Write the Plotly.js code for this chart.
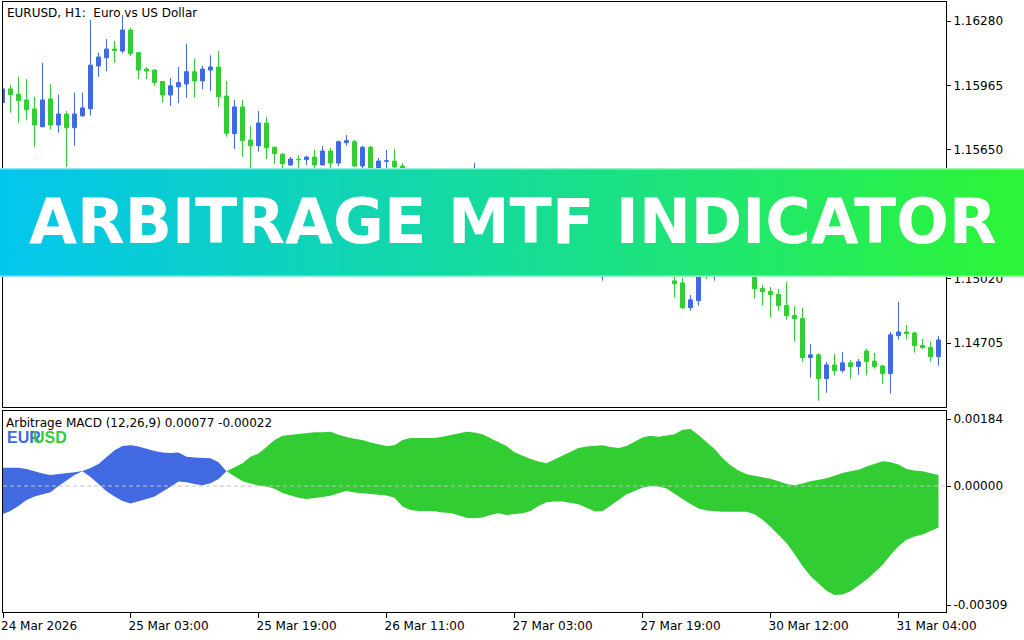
<!DOCTYPE html>
<html>
<head>
<meta charset="utf-8">
<script src="https://cdn.plot.ly/plotly-3.0.1.min.js"></script>
<style>
html,body{margin:0;padding:0;background:#fff;}
#chart{width:1024px;height:640px;}
</style>
</head>
<body>
<div id="chart"></div>
<script>
// ---------------- data ----------------
const symbolTitle = 'EURUSD, H1:\u00a0 Euro vs US Dollar';
const indicatorTitle = 'Arbitrage MACD (12,26,9) 0.00077 -0.00022';
const bannerText = 'ARBITRAGE MTF INDICATOR';
const baseCurrency = 'EUR';
const quoteCurrency = 'USD';

const openP = [1.15882,1.15948,1.15922,1.15894,1.15850,1.15763,1.15899,1.15771,1.15825,1.15758,
1.15816,1.15851,1.16060,1.16100,1.16143,1.16133,1.16236,1.16125,1.16045,1.16040,
1.15984,1.15918,1.15958,1.15972,1.16032,1.15987,1.16040,1.16055,1.15913,1.15729,
1.15860,1.15698,1.15670,1.15781,1.15663,1.15628,1.15576,1.15604,1.15602,1.15615,
1.15576,1.15644,1.15585,1.15685,1.15690,1.15571,1.15663,1.15532,1.15594,1.15595,
1.15571,1.15502,1.15444,1.15473,1.15414,1.15380,1.15424,1.15463,1.15493,1.15473,
1.15527,1.15463,1.15405,1.15346,1.15375,1.15317,1.15278,1.15302,1.15243,1.15209,
1.15229,1.15170,1.15131,1.15150,1.15102,1.15072,1.15102,1.15082,1.15121,1.15102,
1.15136,1.15111,1.15082,1.15053,1.15009,1.14999,1.14878,1.14912,1.15087,1.15053,
1.15082,1.15062,1.15092,1.15072,1.15053,1.14972,1.14957,1.14943,1.14889,1.14840,
1.14825,1.14634,1.14647,1.14531,1.14598,1.14570,1.14608,1.14590,1.14666,1.14617,
1.14593,1.14555,1.14741,1.14759,1.14754,1.14693,1.14683,1.14638];

const highP = [1.15958,1.15967,1.16007,1.15996,1.15910,1.16076,1.15972,1.15920,1.15840,1.15930,
1.15930,1.16285,1.16125,1.16192,1.16182,1.16309,1.16247,1.16127,1.16056,1.16044,
1.15986,1.16001,1.16056,1.16169,1.16097,1.16060,1.16112,1.16133,1.15988,1.15894,
1.15894,1.15767,1.15840,1.15811,1.15665,1.15634,1.15615,1.15624,1.15621,1.15650,
1.15669,1.15659,1.15695,1.15722,1.15698,1.15669,1.15669,1.15610,1.15649,1.15654,
1.15585,1.15522,1.15488,1.15483,1.15439,1.15444,1.15478,1.15512,1.15517,1.15586,
1.15542,1.15478,1.15419,1.15395,1.15390,1.15336,1.15322,1.15312,1.15268,1.15253,
1.15238,1.15190,1.15175,1.15165,1.15121,1.15136,1.15126,1.15141,1.15150,1.15160,
1.15160,1.15131,1.15102,1.15087,1.15053,1.15023,1.14940,1.15102,1.15111,1.15102,
1.15102,1.15121,1.15111,1.15097,1.15072,1.14989,1.14979,1.14969,1.15004,1.14886,
1.14877,1.14701,1.14655,1.14613,1.14652,1.14661,1.14622,1.14627,1.14676,1.14657,
1.14598,1.14759,1.14906,1.14793,1.14760,1.14725,1.14712,1.14740];

const lowP = [1.15874,1.15832,1.15783,1.15796,1.15665,1.15760,1.15750,1.15734,1.15567,1.15670,
1.15812,1.15817,1.16007,1.16035,1.16076,1.16122,1.16108,1.15996,1.15996,1.15963,
1.15881,1.15865,1.15878,1.15905,1.15905,1.15946,1.15938,1.15861,1.15714,1.15654,
1.15616,1.15542,1.15641,1.15605,1.15582,1.15542,1.15572,1.15545,1.15576,1.15542,
1.15574,1.15542,1.15571,1.15670,1.15566,1.15542,1.15503,1.15513,1.15527,1.15523,
1.15483,1.15424,1.15410,1.15390,1.15356,1.15366,1.15405,1.15444,1.15454,1.15458,
1.15444,1.15380,1.15326,1.15317,1.15297,1.15253,1.15258,1.15219,1.15185,1.15180,
1.15150,1.15102,1.15111,1.15082,1.15053,1.15010,1.15062,1.15062,1.15077,1.15082,
1.15087,1.15062,1.15038,1.15033,1.14927,1.14872,1.14863,1.14888,1.15018,1.15010,
1.15038,1.15043,1.15053,1.15033,1.14922,1.14888,1.14829,1.14863,1.14819,1.14712,
1.14614,1.14536,1.14423,1.14462,1.14546,1.14560,1.14531,1.14550,1.14546,1.14580,
1.14506,1.14458,1.14722,1.14722,1.14658,1.14678,1.14614,1.14594];

const closeP = [1.15948,1.15920,1.15891,1.15846,1.15771,1.15894,1.15771,1.15825,1.15758,1.15825,
1.15855,1.16064,1.16104,1.16143,1.16135,1.16236,1.16120,1.16040,1.16035,1.15979,
1.15918,1.15963,1.15979,1.16032,1.15987,1.16045,1.16055,1.15910,1.15731,1.15860,
1.15695,1.15670,1.15781,1.15660,1.15631,1.15582,1.15605,1.15602,1.15615,1.15576,
1.15644,1.15585,1.15690,1.15695,1.15571,1.15663,1.15523,1.15595,1.15596,1.15566,
1.15503,1.15444,1.15473,1.15414,1.15380,1.15424,1.15463,1.15493,1.15473,1.15527,
1.15463,1.15405,1.15346,1.15375,1.15317,1.15278,1.15302,1.15243,1.15209,1.15229,
1.15170,1.15131,1.15150,1.15102,1.15072,1.15102,1.15082,1.15121,1.15102,1.15136,
1.15111,1.15082,1.15053,1.15062,1.14995,1.14878,1.14916,1.15087,1.15053,1.15082,
1.15062,1.15092,1.15072,1.15053,1.14971,1.14956,1.14942,1.14888,1.14839,1.14824,
1.14634,1.14647,1.14531,1.14598,1.14570,1.14608,1.14590,1.14613,1.14614,1.14590,
1.14555,1.14745,1.14759,1.14751,1.14692,1.14682,1.14638,1.14720];

const eurLine = [0.00045,0.00045,0.00045,0.00042,0.00036,0.00031,0.00027,0.00029,0.00032,0.00034,
0.00037,0.00044,0.00054,0.00071,0.00088,0.00098,0.00100,0.00097,0.00091,0.00086,
0.00082,0.00081,0.00082,0.00072,0.00070,0.00069,0.00068,0.00058,0.00036,0.00023,
0.00012,0.00006,0.00001,-0.00001,-0.00007,-0.00017,-0.00023,-0.00029,-0.00032,-0.00030,
-0.00027,-0.00024,-0.00017,-0.00012,-0.00016,-0.00018,-0.00020,-0.00021,-0.00023,-0.00029,
-0.00050,-0.00059,-0.00061,-0.00061,-0.00062,-0.00065,-0.00066,-0.00072,-0.00078,-0.00079,
-0.00077,-0.00071,-0.00067,-0.00071,-0.00069,-0.00067,-0.00061,-0.00049,-0.00040,-0.00038,
-0.00038,-0.00042,-0.00045,-0.00053,-0.00062,-0.00062,-0.00049,-0.00034,-0.00020,-0.00011,
-0.00004,0.00000,-0.00001,-0.00006,-0.00020,-0.00032,-0.00044,-0.00055,-0.00060,-0.00062,
-0.00063,-0.00063,-0.00063,-0.00063,-0.00069,-0.00083,-0.00100,-0.00120,-0.00140,-0.00167,
-0.00196,-0.00221,-0.00238,-0.00257,-0.00267,-0.00266,-0.00258,-0.00245,-0.00230,-0.00212,
-0.00194,-0.00169,-0.00148,-0.00132,-0.00124,-0.00119,-0.00110,-0.00102];

const usdLine = [-0.00069,-0.00061,-0.00049,-0.00034,-0.00026,-0.00021,-0.00015,0.00000,0.00013,0.00027,
0.00036,0.00022,0.00005,-0.00013,-0.00026,-0.00037,-0.00043,-0.00038,-0.00032,-0.00026,
-0.00015,-0.00002,0.00011,0.00009,0.00005,0.00002,0.00007,0.00017,0.00036,0.00045,
0.00056,0.00072,0.00080,0.00096,0.00113,0.00123,0.00125,0.00127,0.00130,0.00132,
0.00132,0.00133,0.00126,0.00120,0.00116,0.00113,0.00107,0.00102,0.00098,0.00100,
0.00113,0.00118,0.00118,0.00118,0.00118,0.00121,0.00125,0.00130,0.00133,0.00131,
0.00127,0.00117,0.00108,0.00098,0.00083,0.00074,0.00066,0.00060,0.00056,0.00065,
0.00075,0.00085,0.00093,0.00097,0.00098,0.00100,0.00096,0.00093,0.00098,0.00109,
0.00119,0.00123,0.00121,0.00124,0.00127,0.00138,0.00140,0.00125,0.00108,0.00091,
0.00069,0.00051,0.00038,0.00029,0.00025,0.00021,0.00018,0.00012,0.00005,0.00002,
0.00006,0.00012,0.00015,0.00019,0.00025,0.00032,0.00036,0.00040,0.00048,0.00055,
0.00061,0.00058,0.00053,0.00042,0.00038,0.00036,0.00031,0.00027];

// bar where EUR / USD lines swap and the fill colour changes
const crossBar = 28;

const timeTickBars = [0.0625, 16, 32, 48, 64, 80, 96, 112];
const timeTickText = ['24 Mar 2026','25 Mar 03:00','25 Mar 19:00','26 Mar 11:00',
                      '27 Mar 03:00','27 Mar 19:00','30 Mar 12:00','31 Mar 04:00'];
// (the 1.15335 level sits under the banner and is not visible)
const priceTickVals = [1.16280, 1.15965, 1.15650, 1.15020, 1.14705];
const priceTickText = ['1.16280','1.15965','1.15650','1.15020','1.14705'];
const macdRange = [-0.00309, 0.00184];
const macdTickVals = [0.00164, 0, -0.00292];
const macdTickText = ['0.00184','0.00000','-0.00309'];

// ---------------- styles ----------------
const bullColor = '#4169E1';
const bearColor = '#32CD32';
const mtFont = {family: 'DejaVu Sans', size: 12, color: '#000000'};

const bars = openP.map((_, i) => i);
const xRange = [0.0625, 117.9375];

const seg1 = bars.slice(0, crossBar + 1);
const seg2 = bars.slice(crossBar);

const traces = [
  {
    type: 'candlestick', x: bars, open: openP, high: highP, low: lowP, close: closeP,
    xaxis: 'x', yaxis: 'y', whiskerwidth: 0, hoverinfo: 'skip',
    increasing: {line: {color: bullColor, width: 1}, fillcolor: bullColor},
    decreasing: {line: {color: bearColor, width: 1}, fillcolor: bearColor}
  },
  {type: 'scatter', mode: 'lines', x: seg1, y: eurLine.slice(0, crossBar + 1),
   xaxis: 'x2', yaxis: 'y2', line: {width: 0, color: bullColor}, hoverinfo: 'skip'},
  {type: 'scatter', mode: 'lines', x: seg1, y: usdLine.slice(0, crossBar + 1),
   xaxis: 'x2', yaxis: 'y2', line: {width: 0, color: bullColor}, fill: 'tonexty',
   fillcolor: bullColor, hoverinfo: 'skip'},
  {type: 'scatter', mode: 'lines', x: seg2, y: eurLine.slice(crossBar),
   xaxis: 'x2', yaxis: 'y2', line: {width: 0, color: bearColor}, hoverinfo: 'skip'},
  {type: 'scatter', mode: 'lines', x: seg2, y: usdLine.slice(crossBar),
   xaxis: 'x2', yaxis: 'y2', line: {width: 0, color: bearColor}, fill: 'tonexty',
   fillcolor: bearColor, hoverinfo: 'skip'}
];

// banner gradient as an SVG image
const bannerSvg =
  "<svg xmlns='http://www.w3.org/2000/svg' width='1024' height='109' viewBox='0 0 1024 109' preserveAspectRatio='none'>" +
  "<defs><linearGradient id='g' x1='0' y1='0' x2='1' y2='0'>" +
  "<stop offset='0' stop-color='#03c6ee'/><stop offset='0.5' stop-color='#16dc98'/><stop offset='1' stop-color='#2df536'/>" +
  "</linearGradient></defs>" +
  "<rect x='0' y='0' width='1024' height='109' fill='url(#g)'/>" +
  "<rect x='0' y='0' width='1024' height='1.5' fill='#ffffff' fill-opacity='0.55'/>" +
  "<rect x='0' y='107.5' width='1024' height='1.5' fill='#ffffff' fill-opacity='0.55'/>" +
  "</svg>";
const bannerSrc = 'data:image/svg+xml;charset=utf-8,' + encodeURIComponent(bannerSvg);

// pixel helpers for paper coordinates (plot area: x 3..946, y 2..612)
const px = v => (v - 3) / 943;
const py = v => (612 - v) / 610;

const axisCommon = {
  showline: true, mirror: true, linecolor: '#000000', linewidth: 1,
  showgrid: false, zeroline: false, fixedrange: true, tickfont: mtFont
};

const layout = {
  width: 1024, height: 640,
  margin: {l: 3, r: 78, t: 2, b: 28, pad: 0},
  paper_bgcolor: '#ffffff', plot_bgcolor: '#ffffff',
  showlegend: false,
  font: mtFont,
  boxgap: 0.3, boxgroupgap: 0.3,
  xaxis: Object.assign({}, axisCommon, {
    domain: [0, 1], anchor: 'y', range: xRange, showticklabels: false, ticks: '',
    rangeslider: {visible: false}
  }),
  yaxis: Object.assign({}, axisCommon, {
    domain: [py(407), 1], anchor: 'x', side: 'right', range: [1.14392, 1.16373],
    tickvals: priceTickVals, ticktext: priceTickText,
    ticks: 'outside', ticklen: 4, tickcolor: '#000000'
  }),
  xaxis2: Object.assign({}, axisCommon, {
    domain: [0, 1], anchor: 'y2', range: xRange,
    tickvals: timeTickBars, ticktext: timeTickText,
    ticks: 'outside', ticklen: 5, tickcolor: '#000000', ticklabelposition: 'outside right',
    ticklabelshift: -3, ticklabelstandoff: 3
  }),
  yaxis2: Object.assign({}, axisCommon, {
    domain: [0, py(411)], anchor: 'x2', side: 'right', range: macdRange,
    tickvals: macdTickVals, ticktext: macdTickText,
    ticks: 'outside', ticklen: 4, tickcolor: '#000000'
  }),
  shapes: [
    {type: 'line', xref: 'x2 domain', x0: 0, x1: 1, yref: 'y2', y0: 0, y1: 0,
     line: {color: '#c4c4c4', width: 1, dash: '4px,3px'}, layer: 'above'}
  ],
  images: [
    {source: bannerSrc, xref: 'paper', yref: 'paper', x: px(0), y: py(168),
     sizex: 1024 / 943, sizey: 109 / 610, sizing: 'stretch',
     xanchor: 'left', yanchor: 'top', layer: 'above'}
  ],
  annotations: [
    {text: symbolTitle, xref: 'paper', yref: 'paper', x: px(5), y: py(13),
     xanchor: 'left', yanchor: 'middle', showarrow: false, font: mtFont},
    {text: indicatorTitle, xref: 'paper', yref: 'paper', x: px(4), y: py(423),
     xanchor: 'left', yanchor: 'middle', showarrow: false, font: mtFont},
    {text: baseCurrency, xref: 'paper', yref: 'paper', x: px(5), y: py(437),
     xanchor: 'left', yanchor: 'middle', showarrow: false,
     font: {family: 'Liberation Sans', size: 16, color: bullColor, weight: 'bold'}},
    {text: quoteCurrency, xref: 'paper', yref: 'paper', x: px(31), y: py(437),
     xanchor: 'left', yanchor: 'middle', showarrow: false,
     font: {family: 'Liberation Sans', size: 16, color: bearColor, weight: 'bold'}},
    {text: bannerText, xref: 'paper', yref: 'paper', x: px(512.5), y: py(221),
     xanchor: 'center', yanchor: 'middle', showarrow: false,
     font: {family: 'DejaVu Sans', size: 62, color: '#ffffff', weight: 'bold'}}
  ]
};

Plotly.newPlot('chart', traces, layout, {displayModeBar: false, staticPlot: true});
</script>
</body>
</html>
